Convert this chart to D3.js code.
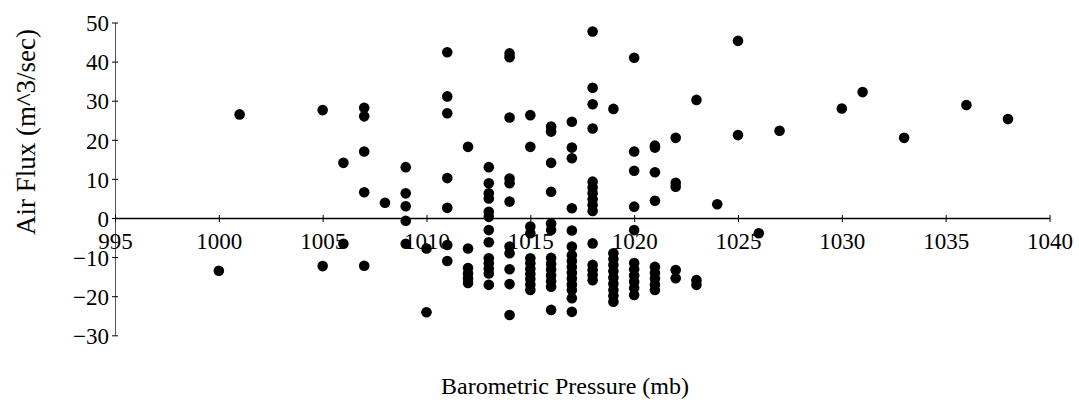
<!DOCTYPE html>
<html>
<head>
<meta charset="utf-8">
<script src="https://cdn.jsdelivr.net/npm/d3@7"></script>
<style>
  body { margin: 0; background: #fff; }
  svg text { font-family: "Liberation Serif", "Tinos", "Times New Roman", "DejaVu Serif", serif !important; fill: #000; }
</style>
</head>
<body>
<div id="chart-area"></div>
<script>
// pressure levels (mb) and the air flux readings taken at each of them (m^3/sec)
var pressureLevels = [1000, 1001, 1005, 1006, 1007, 1008, 1009, 1010, 1011, 1012, 1013, 1014,
                      1015, 1016, 1017, 1018, 1019, 1020, 1021, 1022, 1023, 1024, 1025, 1026,
                      1027, 1030, 1031, 1033, 1036, 1038];

var fluxByLevel = [
  [-13.5],
  [26.5],
  [27.6, -12.3],
  [14.1, -6.6],
  [28.2, 26.0, 17.0, 6.6, -12.2],
  [3.9],
  [13.0, 6.3, 3.0, -0.7, -6.6],
  [-7.8, -24.1],
  [42.4, 31.1, 26.8, 10.2, 2.6, -6.9, -11.0],
  [18.2, -7.8, -12.8, -14.2, -15.5, -16.6],
  [13.0, 8.9, 6.3, 5.0, 1.6, 0.3, -3.1, -6.2, -10.3, -11.6, -12.9, -14.2, -17.1],
  [42.1, 41.1, 25.7, 10.1, 8.9, 4.2, -7.3, -9.0, -13.1, -16.9, -24.8],
  [26.3, 18.2, -2.2, -3.9, -10.3, -11.6, -13.0, -14.3, -15.6, -17.0, -18.4],
  [23.4, 22.1, 14.1, 6.7, -1.4, -3.1, -10.2, -11.7, -13.2, -14.7, -16.2, -17.6, -23.5],
  [24.6, 18.0, 15.3, 2.5, -3.2, -7.3, -9.5, -11.0, -12.5, -14.0, -15.5, -17.0, -18.4, -20.5, -24.0],
  [47.7, 33.3, 29.1, 22.9, 9.3, 7.8, 6.3, 4.8, 3.3, 1.8, -6.5, -12.0, -13.3, -14.6, -15.9],
  [27.9, -9.0, -10.5, -12.0, -13.6, -15.2, -16.8, -18.4, -19.9, -21.4],
  [41.0, 17.0, 12.1, 2.9, -3.1, -11.5, -13.1, -14.7, -16.3, -17.9, -19.7],
  [18.5, 18.0, 11.7, 4.4, -12.5, -14.0, -15.5, -17.0, -18.4],
  [20.5, 9.0, 8.0, -13.3, -15.4],
  [30.2, -15.9, -17.1],
  [3.5],
  [45.3, 21.2],
  [-3.9],
  [22.3],
  [28.0],
  [32.2],
  [20.5],
  [28.9],
  [25.3]
];

var xTicks = [995, 1000, 1005, 1010, 1015, 1020, 1025, 1030, 1035, 1040];
var yTicks = [-30, -20, -10, 0, 10, 20, 30, 40, 50];

var xLabel = "Barometric Pressure (mb)";
var yLabel = "Air Flux (m^3/sec)";

var width = 1079, height = 404;

var svg = d3.select("#chart-area").append("svg")
    .attr("width", width)
    .attr("height", height);

// set the ranges
var x = d3.scaleLinear().domain([995, 1040]).range([115, 1049.5]);
var y = d3.scaleLinear().domain([-30, 50]).range([335.3, 22.5]);

// flatten into points
var points = [];
pressureLevels.forEach(function(p, i) {
  fluxByLevel[i].forEach(function(v) {
    points.push({pressure: p, flux: v});
  });
});

// y axis
var yAxis = svg.append("g")
    .attr("transform", "translate(" + x(995) + ",0)")
    .call(d3.axisLeft(y).tickValues(yTicks).tickSizeOuter(0).tickSizeInner(0));
yAxis.attr("font-family", null).attr("font-size", null);
yAxis.select(".domain").attr("stroke", "#555").attr("stroke-width", 1);
yAxis.selectAll(".tick line").attr("x1", -3).attr("x2", 3).attr("stroke", "#000");
yAxis.selectAll(".tick text")
    .attr("x", -6)
    .attr("dy", "0.36em")
    .style("font-size", "23px");

// x axis sits on the zero line
var xAxis = svg.append("g")
    .attr("transform", "translate(0," + y(0) + ")")
    .call(d3.axisBottom(x).tickValues(xTicks).tickFormat(d3.format("d")).tickSizeOuter(0).tickSizeInner(0));
xAxis.attr("font-family", null).attr("font-size", null);
xAxis.select(".domain").attr("stroke", "#000").attr("stroke-width", 1.3);
xAxis.selectAll(".tick line").attr("y1", -3).attr("y2", 4).attr("stroke", "#000");
xAxis.selectAll(".tick text")
    .attr("y", 31)
    .attr("dy", 0)
    .style("font-size", "23px");

// dots
svg.selectAll(".dot")
    .data(points)
    .enter()
    .append("circle")
    .attr("class", "dot")
    .attr("cx", function(d) { return x(d.pressure); })
    .attr("cy", function(d) { return y(d.flux); })
    .attr("r", 5.3)
    .style("fill", "#000");

// axis titles
svg.append("text")
    .attr("x", 565)
    .attr("y", 394)
    .attr("text-anchor", "middle")
    .style("font-size", "24px")
    .text(xLabel);

svg.append("text")
    .attr("transform", "translate(35,132) rotate(-90)")
    .attr("text-anchor", "middle")
    .style("font-size", "27px")
    .text(yLabel);
</script>
</body>
</html>
